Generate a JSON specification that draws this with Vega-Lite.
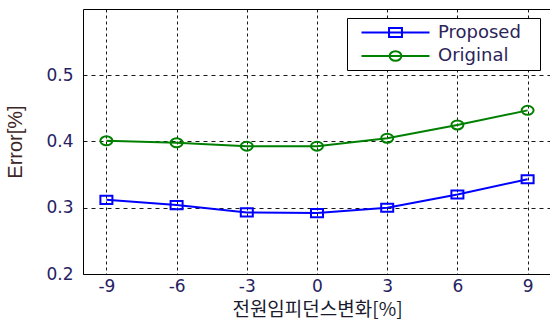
{
  "$schema": "https://vega.github.io/schema/vega-lite/v6.json",
  "width": 468,
  "height": 265,
  "autosize": "none",
  "padding": {"left": 83, "top": 9, "right": 0, "bottom": 46},
  "background": "white",
  "config": {
    "view": {"stroke": "#000000", "strokeWidth": 1},
    "axis": {
      "labelFont": "DejaVu Sans",
      "labelFontSize": 17,
      "labelColor": "#262262",
      "ticks": false,
      "domain": false,
      "grid": true,
      "gridColor": "#000000",
      "gridOpacity": 0.9,
      "gridWidth": 1
    }
  },
  "data": {
    "values": [
      {"x": -9, "series": "Proposed", "error": 0.312},
      {"x": -6, "series": "Proposed", "error": 0.304},
      {"x": -3, "series": "Proposed", "error": 0.293},
      {"x": 0, "series": "Proposed", "error": 0.292},
      {"x": 3, "series": "Proposed", "error": 0.300},
      {"x": 6, "series": "Proposed", "error": 0.320},
      {"x": 9, "series": "Proposed", "error": 0.343},
      {"x": -9, "series": "Original", "error": 0.401},
      {"x": -6, "series": "Original", "error": 0.398},
      {"x": -3, "series": "Original", "error": 0.393},
      {"x": 0, "series": "Original", "error": 0.393},
      {"x": 3, "series": "Original", "error": 0.405},
      {"x": 6, "series": "Original", "error": 0.425},
      {"x": 9, "series": "Original", "error": 0.447}
    ]
  },
  "encoding": {
    "x": {
      "field": "x",
      "type": "quantitative",
      "scale": {"domain": [-10, 10], "nice": false},
      "axis": {
        "values": [-9, -6, -3, 0, 3, 6, 9],
        "labelExpr": "replace(datum.label, '\u2212', '-')",
        "gridDash": [3, 3],
        "labelPadding": 4,
        "title": "전원임피던스변화[%]",
        "titleFont": "Noto Sans CJK KR",
        "titleFontSize": 19,
        "titleFontWeight": "normal",
        "titleColor": "#1a1a2e",
        "titlePadding": 6
      }
    },
    "y": {
      "field": "error",
      "type": "quantitative",
      "scale": {"domain": [0.2, 0.6], "nice": false, "zero": false},
      "axis": {
        "values": [0.2, 0.3, 0.4, 0.5],
        "format": ".1f",
        "gridDash": [4, 4],
        "labelPadding": 10,
        "title": "Error[%]",
        "titleFont": "Liberation Sans",
        "titleFontSize": 20,
        "titleFontWeight": "normal",
        "titleColor": "#3d2626",
        "titlePadding": 20
      }
    }
  },
  "layer": [
    {
      "mark": {"type": "line", "strokeWidth": 2},
      "encoding": {
        "color": {
          "field": "series",
          "type": "nominal",
          "scale": {"domain": ["Proposed", "Original"], "range": ["#0000ff", "#008000"]}
        }
      }
    },
    {
      "transform": [{"filter": "datum.series === 'Proposed'"}],
      "mark": {
        "type": "point",
        "shape": "M-1,-0.68H1V0.68H-1Z",
        "size": 144,
        "filled": false,
        "strokeWidth": 2,
        "color": "#0000ff",
        "opacity": 1
      }
    },
    {
      "transform": [{"filter": "datum.series === 'Original'"}],
      "mark": {
        "type": "point",
        "shape": "M-1,0A1,0.75 0 1,0 1,0A1,0.75 0 1,0 -1,0",
        "size": 144,
        "filled": false,
        "strokeWidth": 2,
        "color": "#008000",
        "opacity": 1
      }
    },
    {
      "mark": {"type": "point", "filled": false, "strokeWidth": 2, "opacity": 0},
      "encoding": {
        "color": {
          "field": "series",
          "type": "nominal",
          "legend": {
            "title": null,
            "orient": "none",
            "legendX": 264,
            "legendY": 9,
            "direction": "vertical",
            "padding": 5,
            "rowPadding": 4.5,
            "fillColor": "#ffffff",
            "strokeColor": "#000000",
            "symbolSize": 289,
            "symbolStrokeWidth": 2,
            "symbolOpacity": 1,
            "symbolOffset": 34,
            "labelOffset": 33,
            "labelExpr": "datum.label + '\u2800'",
            "labelFont": "DejaVu Sans",
            "labelFontSize": 18,
            "labelColor": "#2c2358"
          }
        },
        "shape": {
          "field": "series",
          "type": "nominal",
          "scale": {
            "domain": ["Proposed", "Original"],
            "range": [
              "M-4,0H4M-0.76,-0.53H0.76V0.53H-0.76Z",
              "M-4,0H4M-0.7,0A0.7,0.56 0 1,0 0.7,0A0.7,0.56 0 1,0 -0.7,0"
            ]
          }
        }
      }
    }
  ]
}
